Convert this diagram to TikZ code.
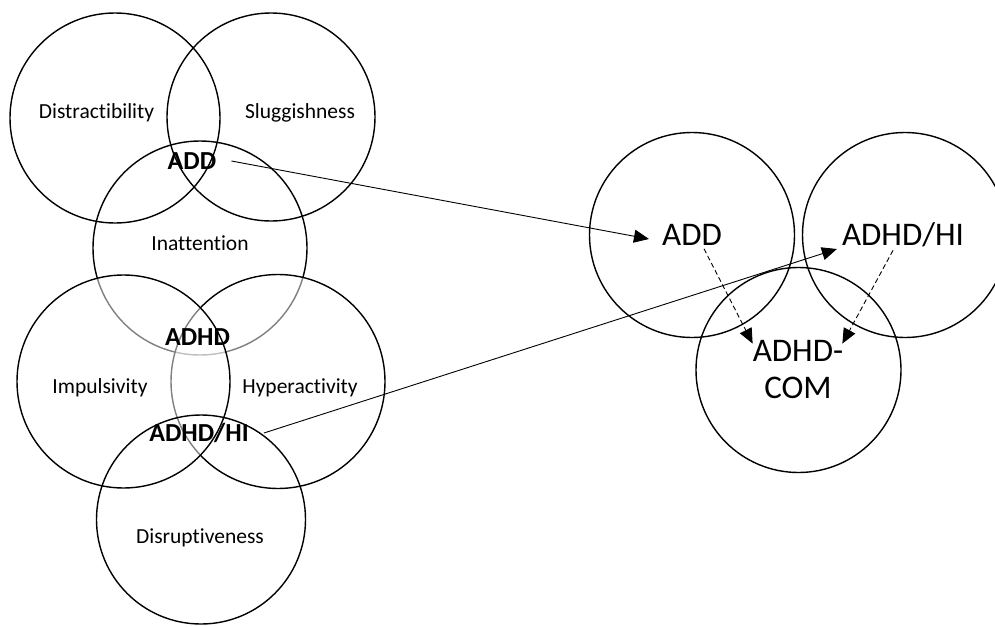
\documentclass[tikz,border=0pt]{standalone}
\usepackage{fontspec}
\setmainfont{Carlito}[Ligatures={NoCommon}]
\usetikzlibrary{arrows.meta}
\begin{document}
\begin{tikzpicture}[x=1pt,y=-1pt,
  circ/.style={circle,draw,line width=1.4pt,inner sep=0pt,minimum size=#1},
  veil/.style={fill=white,fill opacity=0.5},
  lab/.style={font=\fontsize{21.5}{26}\selectfont,inner sep=1pt},
  blab/.style={font=\fontsize{26}{30}\selectfont\bfseries,inner sep=1pt},
  rlab/.style={font=\fontsize{33}{39}\selectfont,inner sep=1pt,align=center},
  arr/.style={line width=0.9pt,-{Triangle[length=15pt,width=13pt]}},
  darr/.style={line width=0.9pt,dashed,dash pattern=on 5pt off 3pt,-{Triangle[length=15pt,width=13pt]}}]
\useasboundingbox (0,0) rectangle (995,626);
% left group
\node[circ=210pt] (cDis) at (115,118) {};
\node[circ=208pt] (cSlu) at (271,117) {};
\node[circ=214pt] (cIna) at (200,248) {};
\node[circ=214pt,veil] (cHyp) at (278,381.5) {};
\node[circ=213pt,veil] (cImp) at (123.5,381.5) {};
\node[circ=209pt] (cDsr) at (201,519.5) {};
% right group
\node[circ=205pt] (cAdd) at (692,235) {};
\node[circ=205pt] (cHi) at (905,235) {};
\node[circ=205pt] (cCom) at (798.5,370) {};
% labels
\node[lab] (tDis) at (96.5,113) {Distractibility};
\node[lab] (tSlu) at (300,113) {Sluggishness};
\node[lab] (tIna) at (200,243) {Inattention};
\node[lab] (tImp) at (100,388) {Impulsivity};
\node[lab] (tHyp) at (300,388) {Hyperactivity};
\node[lab] (tDsr) at (200,538) {Disruptiveness};
\node[blab] (bAdd) at (192,161) {ADD};
\node[blab] (bAdhd) at (197.5,337) {ADHD};
\node[blab] (bHi) at (199,433) {ADHD{\char"002F}HI};
\node[rlab] (rAdd) at (692,235) {ADD};
\node[rlab] (rHi) at (903,235) {ADHD/HI};
\node[rlab] (rCom) at (798,370) {ADHD-\\[-2pt]COM};
% connectors
\draw[arr] ([xshift=14pt]bAdd.east) -- ([xshift=-12pt,yshift=-4pt]rAdd.west);
\draw[arr] ([xshift=14pt]bHi.east) -- ([xshift=-4pt,yshift=-14pt]rHi.west);
\draw[darr] ([xshift=12pt,yshift=-2pt]rAdd.south) -- ([xshift=1pt,yshift=-4pt]rCom.north west);
\draw[darr] ([xshift=-10pt,yshift=-2pt]rHi.south) -- ([xshift=-2pt,yshift=-4pt]rCom.north east);
\end{tikzpicture}
\end{document}
